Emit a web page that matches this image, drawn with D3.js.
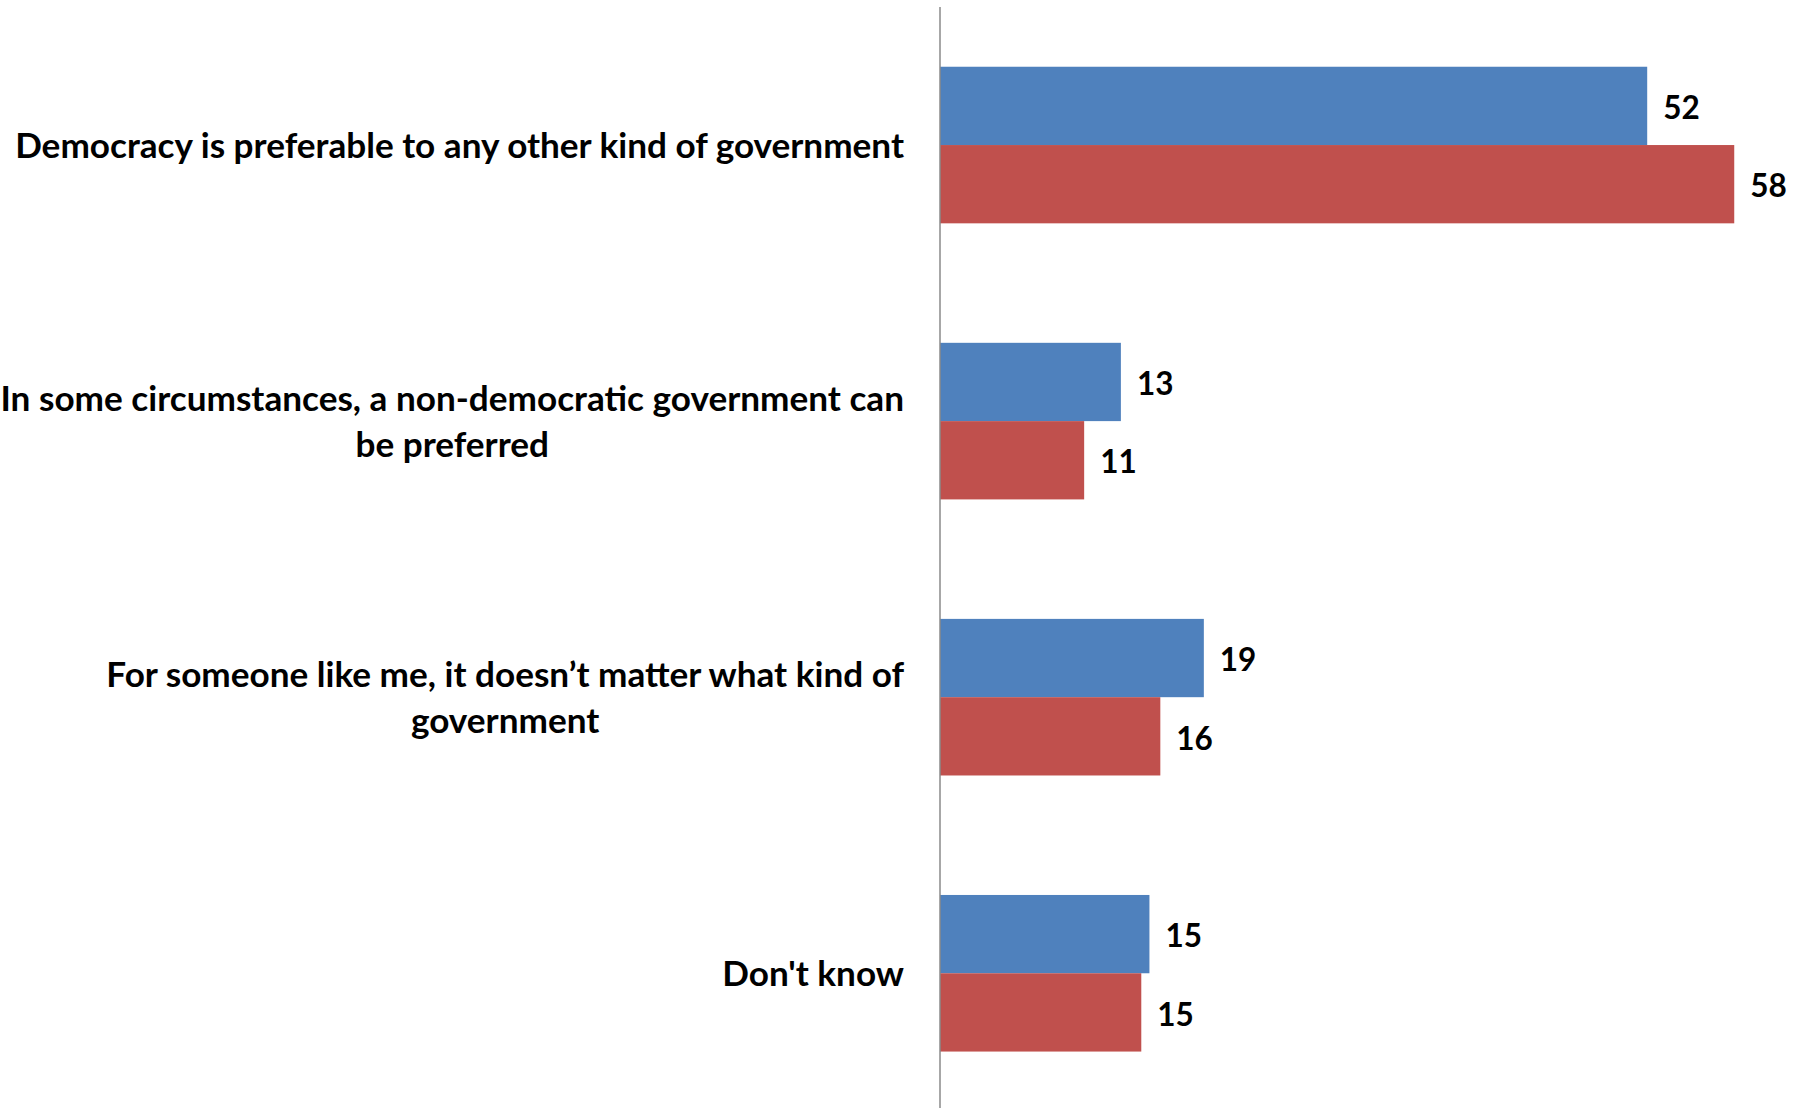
<!DOCTYPE html>
<html>
<head>
<meta charset="utf-8">
<script src="https://cdn.jsdelivr.net/npm/d3@7"></script>
<style>
  html, body { margin: 0; padding: 0; background: #fff; }
  svg { display: block; }
</style>
</head>
<body>
<svg id="chart" width="1804" height="1108"></svg>
<script>
// ---- data ----
const categories = [
  "Democracy is preferable to any other kind of government",
  "In some circumstances, a non-democratic government can be preferred",
  "For someone like me, it doesn’t matter what kind of government",
  "Don't know"
];
// label lines as they wrap in the reference
const categoryLines = [
  ["Democracy is preferable to any other kind of government"],
  ["In some circumstances, a non-democratic government can", "be preferred"],
  ["For someone like me, it doesn’t matter what kind of", "government"],
  ["Don't know"]
];
const seriesNames = ["Series A", "Series B"];
const seriesA = [52.0, 13.3, 19.4, 15.4];   // blue
const seriesB = [58.4, 10.6, 16.2, 14.8];   // red
const seriesColors = ["#4F81BD", "#C0504D"];

// ---- layout ----
const W = 1804, H = 1108;
const axisX = 940;
const pxPerUnit = 13.6;
const xMax = 60;
const plotTop = 7, plotBottom = 1111.3;

const svg = d3.select("#chart");

const x = d3.scaleLinear().domain([0, xMax]).range([axisX, axisX + xMax * pxPerUnit]);
const y0 = d3.scaleBand().domain(categories).range([plotTop, plotBottom]).padding(0);
const y1 = d3.scaleBand().domain(seriesNames).range([0, y0.bandwidth()])
  .paddingInner(0).paddingOuter(0.763);

const rows = categories.map((c, i) => ({
  cat: c, lines: categoryLines[i],
  vals: [seriesA[i], seriesB[i]]
}));

const fmt = d3.format(".0f");

// bars
const g = svg.append("g");
const groups = g.selectAll("g.cat").data(rows).join("g")
  .attr("class", "cat")
  .attr("transform", d => `translate(0,${y0(d.cat)})`);

groups.selectAll("rect").data(d => d.vals.map((v, j) => ({ v, s: seriesNames[j], j })))
  .join("rect")
  .attr("x", x(0))
  .attr("y", d => y1(d.s))
  .attr("width", d => x(d.v) - x(0))
  .attr("height", y1.bandwidth())
  .attr("fill", d => seriesColors[d.j]);

groups.selectAll("text.val").data(d => d.vals.map((v, j) => ({ v, s: seriesNames[j], j })))
  .join("text")
  .attr("class", "val")
  .attr("x", d => x(d.v) + 16)
  .attr("y", d => y1(d.s) + y1.bandwidth() / 2)
  .attr("dy", "0.42em")
  .attr("font-family", "Lato, 'Open Sans', sans-serif")
  .attr("font-weight", "bold")
  .attr("font-size", 31.5)
  .attr("fill", "#000")
  .text(d => fmt(d.v));

// axis line (vertical category axis)
const yAxis = d3.axisLeft(y0).tickSize(0).tickFormat("");
const axisG = svg.append("g").attr("transform", `translate(${axisX},0)`).call(yAxis);
axisG.select(".domain").attr("stroke", "#8a8a8a").attr("stroke-width", 1.5)
  .attr("d", `M0,${plotTop}V${H}`);

// category labels
const labelRight = 904;
const lineH = 46;
let fontSize = 30;
const probe = svg.append("text")
  .attr("font-family", "Lato, 'Open Sans', sans-serif")
  .attr("font-weight", "bold").attr("font-size", fontSize)
  .text(categoryLines[0][0]);
const w0 = probe.node().getComputedTextLength();
probe.remove();
fontSize = fontSize * 889 / w0;

const labG = svg.append("g");
rows.forEach(r => {
  const cy = y0(r.cat) + y0.bandwidth() / 2;
  const t = labG.append("g");
  const texts = r.lines.map((ln, k) => t.append("text")
    .attr("font-family", "Lato, 'Open Sans', sans-serif")
    .attr("font-weight", "bold")
    .attr("font-size", fontSize)
    .attr("fill", "#000")
    .attr("text-anchor", "middle")
    .attr("y", cy + (k - (r.lines.length - 1) / 2) * lineH)
    .attr("dy", "0.36em")
    .text(ln));
  const maxW = d3.max(texts, tx => tx.node().getComputedTextLength());
  texts.forEach(tx => tx.attr("x", labelRight - maxW / 2));
});
</script>
</body>
</html>
